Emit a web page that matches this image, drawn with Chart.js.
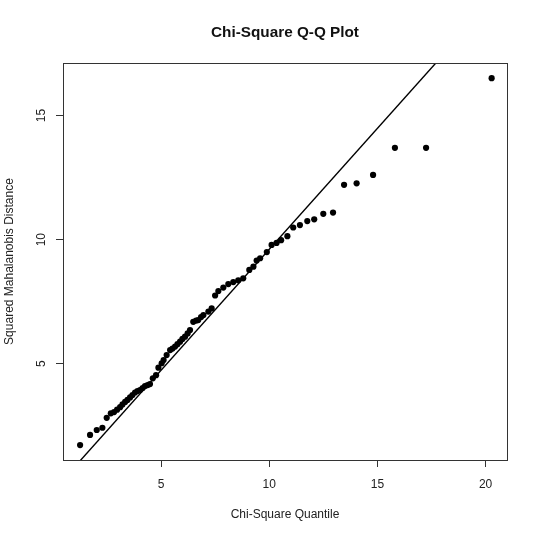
<!DOCTYPE html>
<html>
<head>
<meta charset="utf-8">
<style>
  html, body { margin: 0; padding: 0; background: #ffffff; }
  #wrap { width: 540px; height: 539px; }
</style>
<script src="https://cdn.jsdelivr.net/npm/chart.js@4.4.1/dist/chart.umd.min.js"></script>
</head>
<body>
<div id="wrap"><canvas id="c" width="540" height="539"></canvas></div>
<script>
// ---- data ----
const chiSquareQuantile = [
  1.26, 1.72, 2.03, 2.29, 2.49, 2.68, 2.83, 2.97, 3.11, 3.22,
  3.34, 3.45, 3.57, 3.68, 3.80, 3.91, 4.03, 4.15, 4.26, 4.38,
  4.49, 4.62, 4.77, 4.88, 5.03, 5.12, 5.26, 5.42, 5.53, 5.65,
  5.76, 5.88, 5.99, 6.11, 6.23, 6.34, 6.49, 6.62, 6.72, 6.85,
  6.96, 7.19, 7.34, 7.50, 7.65, 7.88, 8.11, 8.34, 8.57, 8.80,
  9.08, 9.27, 9.42, 9.58, 9.89, 10.11, 10.34, 10.55, 10.84, 11.11,
  11.42, 11.76, 12.08, 12.50, 12.95, 13.46, 14.04, 14.80, 15.81, 17.25,
  20.28
];
const squaredMahalanobis = [
  1.72, 2.13, 2.33, 2.42, 2.82, 3.00, 3.05, 3.15, 3.25, 3.36,
  3.46, 3.54, 3.64, 3.74, 3.84, 3.90, 3.94, 4.02, 4.10, 4.14,
  4.18, 4.41, 4.54, 4.84, 5.02, 5.15, 5.35, 5.55, 5.61, 5.69,
  5.79, 5.89, 6.00, 6.09, 6.22, 6.36, 6.69, 6.74, 6.76, 6.88,
  6.96, 7.10, 7.23, 7.75, 7.93, 8.07, 8.21, 8.29, 8.36, 8.44,
  8.78, 8.91, 9.16, 9.25, 9.50, 9.79, 9.87, 9.98, 10.14, 10.49,
  10.59, 10.75, 10.82, 11.04, 11.09, 12.21, 12.27, 12.61, 13.70, 13.70,
  16.51
];
const xTickValues = [5, 10, 15, 20];
const yTickValues = [5, 10, 15];
const lineIntercept = -0.14;
const lineSlope = 0.975;

const xRange = [0.47, 20.99];
const yRange = [1.12, 17.12];

const FONT = "'Liberation Sans', Arial, sans-serif";

const points = chiSquareQuantile.map((x, i) => ({ x: x, y: squaredMahalanobis[i] }));
const refLine = xRange.map(x => ({ x: x, y: lineIntercept + lineSlope * x }));

const boxAndText = {
  id: 'boxAndText',
  afterDraw(chart) {
    const ctx = chart.ctx;
    const a = chart.chartArea;
    ctx.save();
    // plot box
    ctx.strokeStyle = '#333333';
    ctx.lineWidth = 1;
    ctx.strokeRect(Math.round(a.left) + 0.5, Math.round(a.top) + 0.5,
                   Math.round(a.right - a.left), Math.round(a.bottom - a.top));
    // main title
    ctx.fillStyle = '#111111';
    ctx.font = 'bold 15.3px ' + FONT;
    ctx.textAlign = 'center';
    ctx.textBaseline = 'middle';
    ctx.fillText('Chi-Square Q-Q Plot', (a.left + a.right) / 2, 33);
    // rotated y tick labels
    const ys = chart.scales.y;
    ctx.font = '12px ' + FONT;
    ctx.fillStyle = '#222222';
    yTickValues.forEach(v => {
      const py = ys.getPixelForValue(v);
      ctx.save();
      ctx.translate(42, py);
      ctx.rotate(-Math.PI / 2);
      ctx.textAlign = 'center';
      ctx.textBaseline = 'middle';
      ctx.fillText(String(v), 0, 0);
      ctx.restore();
    });
    ctx.restore();
  }
};

new Chart(document.getElementById('c'), {
  type: 'scatter',
  data: {
    datasets: [
      {
        type: 'line',
        data: refLine,
        borderColor: '#000000',
        borderWidth: 1.4,
        pointRadius: 0,
        fill: false,
        clip: 0,
        order: 1
      },
      {
        type: 'scatter',
        data: points,
        backgroundColor: '#000000',
        borderColor: '#000000',
        borderWidth: 0,
        pointRadius: 3.1,
        order: 0
      }
    ]
  },
  plugins: [boxAndText],
  options: {
    responsive: false,
    animation: false,
    devicePixelRatio: 1,
    layout: { padding: { top: 63, right: 33, left: 0, bottom: 0 } },
    plugins: {
      legend: { display: false },
      title: { display: false },
      tooltip: { enabled: false }
    },
    scales: {
      x: {
        type: 'linear',
        position: 'bottom',
        min: xRange[0],
        max: xRange[1],
        afterBuildTicks(scale) { scale.ticks = xTickValues.map(v => ({ value: v })); },
        afterFit(scale) { scale.height = 79; },
        grid: { display: true, drawOnChartArea: false, drawTicks: true, tickLength: 7, color: '#333333', lineWidth: 1 },
        border: { display: false },
        ticks: {
          color: '#222222',
          font: { family: FONT, size: 12 },
          padding: 10,
          maxRotation: 0,
          autoSkip: false,
          callback: v => String(v)
        },
        title: {
          display: true,
          text: 'Chi-Square Quantile',
          color: '#222222',
          font: { family: FONT, size: 12 },
          padding: { top: 0, bottom: 16.8 }
        }
      },
      y: {
        type: 'linear',
        position: 'left',
        min: yRange[0],
        max: yRange[1],
        afterBuildTicks(scale) { scale.ticks = yTickValues.map(v => ({ value: v })); },
        afterFit(scale) { scale.width = 63; },
        grid: { display: true, drawOnChartArea: false, drawTicks: true, tickLength: 7, color: '#333333', lineWidth: 1 },
        border: { display: false },
        ticks: { display: false },
        title: {
          display: true,
          text: 'Squared Mahalanobis Distance',
          color: '#222222',
          font: { family: FONT, size: 12 },
          padding: { top: 2.8, bottom: 0 }
        }
      }
    }
  }
});
</script>
</body>
</html>
